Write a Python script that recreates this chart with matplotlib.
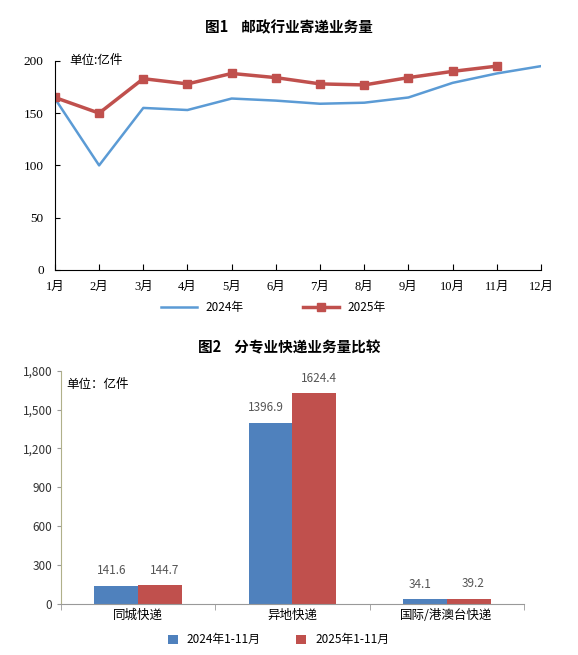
import matplotlib.pyplot as plt
import numpy as np

plt.rcParams['font.family'] = ['Noto Sans CJK SC', 'DejaVu Sans']

months = ['1月', '2月', '3月', '4月', '5月', '6月', '7月', '8月', '9月', '10月', '11月', '12月']
v2024 = [164, 100, 155, 153, 164, 162, 159, 160, 165, 179, 188, 195]
v2025 = [165, 150, 183, 178, 188, 184, 178, 177, 184, 190, 195]

cats = ['同城快递', '异地快递', '国际/港澳台快递']
b2024 = [141.6, 1396.9, 34.1]
b2025 = [144.7, 1624.4, 39.2]

fig = plt.figure(figsize=(5.78, 6.55), dpi=100)

# 图1
ax1 = fig.add_axes([0.095, 0.588, 0.841, 0.319])
ax1.plot(range(12), v2024, color='#5b9bd5', lw=1.8, label='2024年')
ax1.plot(range(11), v2025, color='#c0504d', lw=2.5, marker='s', ms=6, label='2025年')
ax1.set_xlim(0, 11)
ax1.set_ylim(0, 200)
ax1.set_yticks([0, 50, 100, 150, 200])
ax1.set_xticks(range(12))
ax1.set_xticklabels(months, fontsize=9, family=['Liberation Serif', 'Noto Sans CJK SC'])
ax1.tick_params(axis='y', labelsize=9.5, direction='in', pad=8)
for t in ax1.get_yticklabels():
    t.set_family(['Liberation Serif'])
ax1.tick_params(axis='x', direction='in', length=4, pad=8)
for s in ['top', 'right']:
    ax1.spines[s].set_visible(False)
ax1.text(0.03, 1.0, '单位:亿件', transform=ax1.transAxes, fontsize=9, va='center')
fig.text(0.5, 0.951, '图1    邮政行业寄递业务量', ha='center', fontsize=10.5, weight='bold')
ax1.legend(loc='upper center', bbox_to_anchor=(0.45, -0.1), ncol=2, frameon=False,
           fontsize=8.5, columnspacing=5, handlelength=3)

# 图2
ax2 = fig.add_axes([0.106, 0.078, 0.8, 0.356])
x = np.arange(3)
w = 0.285
ax2.bar(x - w / 2, b2024, w, color='#4f81bd', label='2024年1-11月')
ax2.bar(x + w / 2, b2025, w, color='#c0504d', label='2025年1-11月')
for xi, a, b in zip(x, b2024, b2025):
    ax2.text(xi - w / 2 - 0.03, a + 90, f'{a:.1f}', ha='center', fontsize=8.5, color='#555555')
    ax2.text(xi + w / 2 + 0.03, b + 90, f'{b:.1f}', ha='center', fontsize=8.5, color='#555555')
ax2.set_xlim(-0.5, 2.5)
ax2.set_ylim(0, 1800)
ax2.set_yticks(range(0, 1801, 300))
ax2.set_yticklabels([f'{v:,}' for v in range(0, 1801, 300)], fontsize=8.5, color='#333333')
ax2.set_xticks(x)
ax2.set_xticklabels(cats, fontsize=9)
ax2.set_xticks([-0.5, 0.5, 1.5, 2.5], minor=True)
ax2.tick_params(axis='x', which='major', length=0)
ax2.tick_params(axis='x', which='minor', length=4, color='#999999')
ax2.tick_params(axis='y', length=3, color='#999999')
for s in ['top', 'right']:
    ax2.spines[s].set_visible(False)
ax2.spines['left'].set_color('#b0b08a')
ax2.spines['bottom'].set_color('#999999')
ax2.text(0.01, 0.94, '单位：亿件', transform=ax2.transAxes, fontsize=9, va='center')
fig.text(0.5, 0.462, '图2    分专业快递业务量比较', ha='center', fontsize=10.5, weight='bold')
ax2.legend(loc='upper center', bbox_to_anchor=(0.47, -0.08), ncol=2, frameon=False,
           fontsize=8.5, handlelength=0.8, handleheight=0.8, columnspacing=3)

fig.savefig('out.png', dpi=100)
